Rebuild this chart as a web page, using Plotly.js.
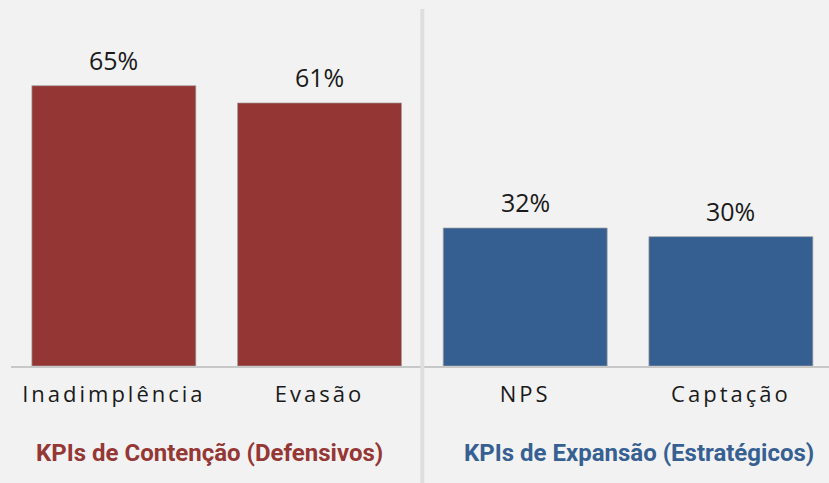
<!DOCTYPE html>
<html>
<head>
<meta charset="utf-8">
<script src="https://cdn.plot.ly/plotly-3.0.1.min.js"></script>
<style>
html,body{margin:0;padding:0;background:#f2f2f2;}
#chart{width:829px;height:483px;}
.xtick text{letter-spacing:3px;}
</style>
</head>
<body>
<div id="chart"></div>
<script>
const categories = ["Inadimplência", "Evasão", "NPS", "Captação"];
const values = [65, 61, 32, 30];
const valueLabels = ["65%", "61%", "32%", "30%"];
const groupTitles = ["KPIs de Contenção (Defensivos)", "KPIs de Expansão (Estratégicos)"];

const RED = "#943634";
const BLUE = "#365f91";
const barColors = [RED, RED, BLUE, BLUE];
const titleColors = ["#953735", "#376092"];

const trace = {
  type: "bar",
  x: categories,
  y: values,
  marker: {color: barColors, line: {color: "rgba(160,160,160,0.7)", width: 1}},
  width: 0.797,
  hoverinfo: "skip"
};

const annotations = values.map((v, i) => ({
  x: categories[i], y: v, xref: "x", yref: "y",
  text: valueLabels[i], showarrow: false,
  yanchor: "middle", yshift: 26,
  font: {family: "Open Sans, sans-serif", size: 25, color: "#1a1a1a"}
}));

const titleX = [0.243, 0.768];
groupTitles.forEach((t, i) => annotations.push({
  x: titleX[i], y: -0.252, xref: "paper", yref: "paper",
  text: "<b>" + t + "</b>", showarrow: false,
  xanchor: "center", yanchor: "middle",
  font: {family: "Roboto, sans-serif", size: 24, color: titleColors[i]}
}));

const layout = {
  width: 829, height: 483,
  margin: {l: 11, r: 0, t: 21, b: 117},
  paper_bgcolor: "#f2f2f2",
  plot_bgcolor: "#f2f2f2",
  showlegend: false,
  xaxis: {
    type: "category",
    range: [-0.5, 3.477],
    showgrid: false, zeroline: false,
    showline: true, linecolor: "#c8c8c8", linewidth: 2,
    ticks: "", ticklen: 0,
    ticklabelstandoff: 8,
    tickfont: {family: "Open Sans, sans-serif", size: 22, color: "#1a1a1a"},
    fixedrange: true
  },
  yaxis: {
    range: [0, 80],
    visible: false, showgrid: false, zeroline: false,
    fixedrange: true
  },
  shapes: [{
    type: "line", xref: "x", yref: "paper",
    x0: 1.5, x1: 1.5, y0: 1.035, y1: -0.34,
    line: {color: "#dedede", width: 4}
  }],
  annotations: annotations
};

Plotly.newPlot("chart", [trace], layout, {displayModeBar: false, staticPlot: true});
</script>
</body>
</html>
